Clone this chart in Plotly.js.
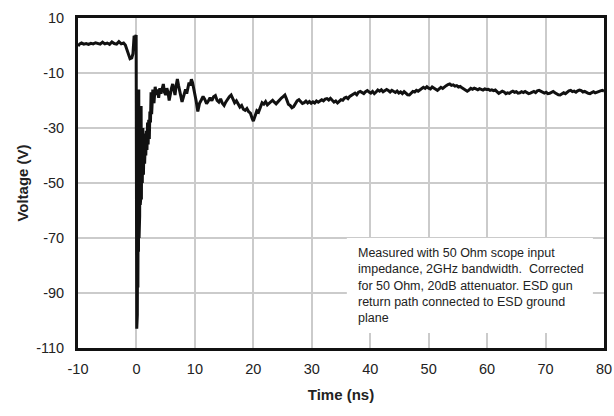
<!DOCTYPE html>
<html>
<head>
<meta charset="utf-8">
<script src="https://cdn.plot.ly/plotly-3.0.1.min.js"></script>
<style>html,body{margin:0;padding:0;background:#fff;}#chart{width:614px;height:416px;}</style>
</head>
<body>
<div id="chart"></div>
<script>
// Time (ns) — pre-trigger, discharge and early ringing
const timeEarly = [
  -10, -9.7, -9.4, -9.0, -8.6, -8.2, -7.8, -7.4, -7.0, -6.6, -6.2, -5.8, -5.4, -5.0, -4.6, -4.2, -3.8, -3.4, -3.0, -2.6, -2.2, -1.9,
  -1.6, -1.4, -1.1, -0.8, -0.6, -0.4, -0.2, -0.05,
  0.0, 0.05, 0.1, 0.15, 0.2, 0.25, 0.3, 0.35, 0.4, 0.45, 0.5, 0.55, 0.6, 0.65, 0.7, 0.75, 0.8, 0.85, 0.9,
  1.0, 1.1, 1.2, 1.3, 1.4, 1.5, 1.6, 1.7, 1.8, 1.9, 2.0, 2.1, 2.2, 2.3, 2.4, 2.5, 2.6, 2.7, 2.8,
  3.0, 3.2, 3.4, 3.6, 3.8, 4.0, 4.2, 4.4, 4.6, 4.8, 5.0, 5.2, 5.4, 5.6, 5.8, 6.0, 6.2, 6.4, 6.6, 6.8, 7.0,
  7.2, 7.4, 7.6, 7.8, 8.0, 8.2, 8.4, 8.6, 8.8, 9.0, 9.2, 9.4, 9.6, 9.8, 10.0
];
// Voltage (V) for timeEarly
const voltEarly = [
  -0.2, 0.6, 0.9, 0.5, 0.7, 0.4, 0.8, 0.6, 1.0, 0.7, 0.5, 1.2, 0.6, 0.9, 0.4, 1.3, 0.7, 0.5, 1.4, 0.6, 0.9, 0.2,
  -2.0, -3.5, -4.8, -4.5, -3.0, 3.5, 2.8, 3.8,
  -60, -103, -80, -98, -60, -88, -45, -75, -16, -70, -30, -62, -25, -58, -28, -55, -22, -56, -30,
  -50, -30, -47, -32, -43, -35, -40, -31, -38, -28, -36, -27, -34, -24, -28, -17, -25, -22, -16,
  -21, -15, -18, -16, -19, -15.5, -17.5, -16, -14, -17, -18, -15.5, -17, -20, -17, -15.5, -14, -16.5, -18, -14.5, -12.2,
  -14.5, -17, -19, -20.5, -19, -17, -16, -17.5, -15, -13.5, -14.5, -12.3, -13.5, -15.5, -17
];
// Time (ns) — late settling tail
const timeLate = [
  10.2, 10.5, 10.8, 11.1, 11.4, 11.7, 12.0, 12.3, 12.6, 12.9, 13.2, 13.5, 13.8, 14.1, 14.4, 14.7, 15.0, 15.3, 15.6, 15.9,
  16.2, 16.5, 16.8, 17.1, 17.4, 17.7, 18.0, 18.3, 18.6, 18.9, 19.2, 19.5, 19.8, 20.0, 20.3, 20.6, 20.9, 21.2, 21.5, 21.8,
  22.1, 22.4, 22.7, 23.0, 23.3, 23.6, 23.9, 24.2, 24.5, 24.8, 25.1, 25.4, 25.7, 26.0, 26.3, 26.6, 26.9, 27.2, 27.5, 27.8,
  28.1, 28.4, 28.7, 29.0, 29.3, 29.6, 29.9, 30.2, 30.5, 30.8, 31.1, 31.4, 31.7, 32.0, 32.3, 32.6, 32.9, 33.2, 33.5, 33.8,
  34.1, 34.4, 34.7, 35.0, 35.3, 35.6, 35.9, 36.2, 36.5, 36.8, 37.1, 37.4, 37.7, 38.0, 38.3, 38.6, 38.9, 39.2, 39.5, 39.8,
  40.1, 40.4, 40.7, 41.0, 41.3, 41.6, 41.9, 42.2, 42.5, 42.8, 43.1, 43.4, 43.7, 44.0, 44.3, 44.6, 44.9, 45.2, 45.5, 45.8,
  46.1, 46.4, 46.7, 47.0, 47.3, 47.6, 47.9, 48.2, 48.5, 48.8, 49.1, 49.4, 49.7, 50.0, 50.3, 50.6, 50.9, 51.2, 51.5, 51.8,
  52.1, 52.4, 52.7, 53.0, 53.3, 53.6, 53.9, 54.2, 54.5, 54.8, 55.1, 55.4, 55.7, 56.0, 56.3, 56.6, 56.9, 57.2, 57.5, 57.8,
  58.1, 58.4, 58.7, 59.0, 59.3, 59.6, 59.9, 60.2, 60.5, 60.8, 61.1, 61.4, 61.7, 62.0, 62.3, 62.6, 62.9, 63.2, 63.5, 63.8,
  64.1, 64.4, 64.7, 65.0, 65.3, 65.6, 65.9, 66.2, 66.5, 66.8, 67.1, 67.4, 67.7, 68.0, 68.3, 68.6, 68.9, 69.2, 69.5, 69.8,
  70.1, 70.4, 70.7, 71.0, 71.3, 71.6, 71.9, 72.2, 72.5, 72.8, 73.1, 73.4, 73.7, 74.0, 74.3, 74.6, 74.9, 75.2, 75.5, 75.8,
  76.1, 76.4, 76.7, 77.0, 77.3, 77.6, 77.9, 78.2, 78.5, 78.8, 79.1, 79.4, 79.7, 80.0
];
// Voltage (V) for timeLate
const voltLate = [
  -20, -24, -21, -19.8, -18.5, -19.6, -21.2, -20.2, -19.0, -20.1, -18.6, -18.2, -20.0, -20.6, -19.4, -21.0, -21.8, -20.5, -19.3, -18.6,
  -18.0, -19.5, -20.8, -20.1, -21.6, -22.4, -21.8, -23.2, -23.6, -22.9, -24.1, -24.6, -26.5, -27.5, -25.6, -23.7, -24.2, -22.3, -20.8, -21.3,
  -20.4, -21.6, -21.0, -20.3, -19.9, -20.6, -21.2, -20.5, -19.7, -19.1, -18.6, -18.0, -19.6, -21.4, -21.8, -22.6, -22.2, -21.0, -20.1, -19.7,
  -20.6, -21.1, -20.8, -20.2, -20.9, -20.4, -21.0, -20.5, -20.9, -20.2, -20.6, -20.0, -19.7, -20.1, -19.5, -19.3, -19.8, -19.2, -19.9, -20.6,
  -20.2, -20.9, -20.3, -19.7, -19.9, -19.1, -18.8, -19.3, -18.5, -18.1, -17.6, -17.3, -17.9, -17.0, -16.7, -17.2, -17.5, -16.8, -16.4, -16.9,
  -17.3, -16.7, -17.5, -16.9, -16.2, -16.6, -16.1, -16.8, -16.5, -16.0, -16.4, -16.9, -16.3, -16.8, -17.1, -16.6, -17.3, -16.9, -17.5, -16.8,
  -17.4, -17.9, -18.0, -17.2, -16.7, -16.9, -16.3, -16.6, -16.1, -15.7, -15.2, -15.6, -15.0, -15.5, -15.8, -15.1, -15.4, -15.9, -16.3, -15.8,
  -15.2, -15.6, -15.0, -14.6, -14.2, -14.0, -14.5, -14.3, -14.8, -14.6, -15.1, -14.9, -15.4, -15.8, -15.9, -16.6, -16.2, -15.6, -15.9, -15.5,
  -15.8, -16.1, -15.7, -15.9, -16.2, -15.8, -16.0, -15.9, -16.3, -16.1, -16.4, -16.2, -16.9, -17.4, -17.0, -16.6, -16.9, -17.5, -17.2, -17.4,
  -16.9, -16.6, -17.0, -16.8, -17.3, -17.2, -16.8, -17.1, -16.7, -17.2, -17.5, -17.3, -16.9, -16.7, -17.1, -16.5, -16.3, -16.6, -17.1, -17.3,
  -17.0, -17.5, -17.4, -16.9, -16.7, -17.2, -17.6, -17.9, -18.0, -17.6, -17.2, -17.5, -16.9, -16.5, -16.3, -16.8, -16.6, -17.0, -16.5, -16.2,
  -16.4, -16.9, -16.7, -17.1, -17.4, -17.5, -17.0, -16.8, -17.2, -16.9, -16.8, -16.5, -16.3, -16.6
];
const xTicks = [-10, 0, 10, 20, 30, 40, 50, 60, 70, 80];
const yTicks = [10, -10, -30, -50, -70, -90, -110];
const noteText = 'Measured with 50 Ohm scope input<br>impedance, 2GHz bandwidth.&nbsp; Corrected<br>for 50 Ohm, 20dB attenuator. ESD gun<br>return path connected to ESD ground<br>plane';

const trace = {
  x: timeEarly.concat(timeLate), y: voltEarly.concat(voltLate), type: 'scatter', mode: 'lines',
  line: {color: '#111', width: 3}, hoverinfo: 'none'
};
const fontFam = 'Liberation Sans, Arial, sans-serif';
const layout = {
  width: 614, height: 416,
  margin: {l: 78, r: 10, t: 18, b: 68},
  paper_bgcolor: '#fff', plot_bgcolor: '#fff',
  showlegend: false,
  font: {family: fontFam, size: 14.5, color: '#222'},
  xaxis: {
    range: [-10, 80], tickvals: xTicks, ticktext: xTicks.map(String),
    showgrid: true, gridcolor: '#cbcbcb', gridwidth: 2,
    showline: true, linecolor: '#111', linewidth: 3, mirror: true,
    zeroline: false, ticks: '', ticklabelstandoff: 6,
    title: {text: '<b>Time (ns)</b>', font: {size: 15, color: '#222'}, standoff: 14}
  },
  yaxis: {
    range: [-110, 10], tickvals: yTicks, ticktext: yTicks.map(String),
    showgrid: true, gridcolor: '#cbcbcb', gridwidth: 2,
    showline: true, linecolor: '#111', linewidth: 3, mirror: true,
    zeroline: false, ticks: '', ticklabelstandoff: 8,
    title: {text: '<b>Voltage (V)</b>', font: {size: 15, color: '#222'}, standoff: 4}
  },
  shapes: [{
    type: 'rect', xref: 'x', yref: 'y', x0: 36.0, x1: 78.1, y0: -70, y1: -104.5,
    fillcolor: '#fff', line: {width: 0}, layer: 'above'
  }],
  annotations: [{
    xref: 'x', yref: 'y', x: 37.6, y: -72.3, xanchor: 'left', yanchor: 'top',
    text: noteText, align: 'left', showarrow: false,
    font: {family: fontFam, size: 12.5, color: '#222'}
  }]
};
Plotly.newPlot('chart', [trace], layout, {staticPlot: true, displayModeBar: false});
</script>
</body>
</html>
